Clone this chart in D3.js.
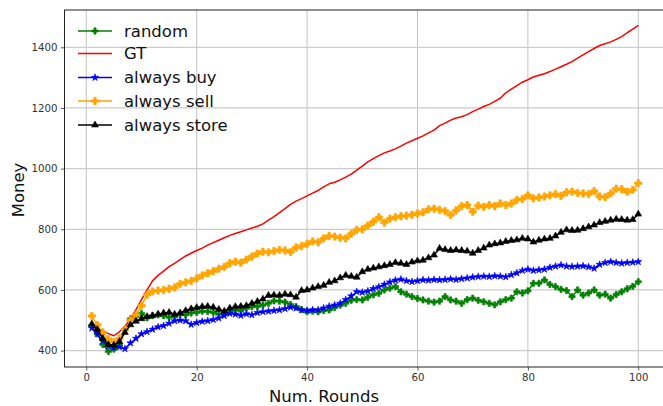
<!DOCTYPE html>
<html>
<head>
<meta charset="utf-8">
<script src="https://cdn.jsdelivr.net/npm/d3@7"></script>
<style>
  html, body { margin: 0; padding: 0; background: #fff; }
  svg { display: block; font-family: "DejaVu Sans", sans-serif; }
</style>
</head>
<body>
<svg id="chart" width="663" height="406"></svg>
<script>
// Money accumulated per round for each trading strategy
const rounds = d3.range(1, 101);

const randomVals = [482,455,420,397,405,420,470,505,512,522,508,515,518,515,510,512,520,518,524,526,
  530,529,526,520,523,530,534,532,540,545,546,550,556,564,563,560,552,545,535,529,
  530,528,532,534,542,550,556,566,568,567,576,584,589,600,606,611,594,586,578,572,
  567,563,560,563,578,567,563,556,568,573,566,561,556,551,561,568,573,594,590,597,
  622,622,633,618,611,602,598,578,600,583,590,600,583,586,573,585,594,604,612,627];

const gtVals = [480,472,465,456,449,462,480,505,535,568,600,630,648,662,677,688,700,712,721,730,
  738,748,756,764,772,780,786,792,798,804,810,818,830,842,855,868,882,893,901,910,
  919,928,940,950,955,963,972,982,995,1008,1022,1033,1043,1052,1058,1065,1074,1084,1092,1100,
  1108,1118,1127,1142,1150,1160,1167,1171,1178,1188,1196,1205,1212,1222,1232,1250,1262,1274,1285,1293,
  1302,1308,1313,1320,1328,1336,1344,1353,1364,1375,1386,1396,1406,1412,1418,1426,1435,1448,1460,1472];

const buyVals = [474,455,432,415,410,412,406,425,440,455,462,470,478,482,490,498,500,498,486,492,
  496,498,502,507,515,522,520,516,521,518,525,528,530,532,534,538,543,540,534,532,
  534,534,540,546,550,556,568,580,594,592,596,604,610,618,626,632,635,630,627,630,
  633,632,634,633,634,636,634,637,639,642,644,645,644,646,645,643,650,656,664,668,
  664,666,668,674,678,682,678,677,678,679,676,671,684,690,693,690,688,690,691,693];

const sellVals = [514,485,460,438,428,440,470,500,518,548,584,595,598,600,604,608,620,625,630,638,
  648,655,662,670,676,688,693,690,700,710,720,726,724,728,732,730,725,740,745,752,
  760,757,770,778,776,772,770,785,798,800,812,825,840,822,835,840,843,845,848,852,
  856,866,868,864,860,847,862,876,880,858,878,874,880,876,885,880,885,897,900,912,
  902,905,908,912,916,910,922,924,920,918,916,926,908,906,918,934,932,924,930,952];

const storeVals = [488,470,440,420,418,430,460,485,497,505,512,515,520,524,526,520,524,532,538,542,
  545,546,543,536,530,540,545,546,548,556,562,570,582,583,582,586,584,576,598,600,
  606,611,615,625,630,640,648,645,642,660,668,672,676,680,684,690,688,684,692,696,
  698,706,715,737,733,730,732,730,728,721,730,738,748,752,755,760,763,765,770,768,
  758,764,768,770,778,790,798,796,797,802,808,814,822,826,830,833,832,830,832,850];

const xTicks = [0, 20, 40, 60, 80, 100];
const yTicks = [400, 600, 800, 1000, 1200, 1400];

const seriesList = [
  { name: "random",       values: randomVals, color: "#008000", marker: "plus",   size: 22 },
  { name: "GT",           values: gtVals,     color: "#ff0000", marker: null },
  { name: "always buy",   values: buyVals,    color: "#0000ff", marker: "star",   size: 16 },
  { name: "always sell",  values: sellVals,   color: "#ffa500", marker: "plusB",  size: 30 },
  { name: "always store", values: storeVals,  color: "#000000", marker: "tri",    size: 20 }
];

const svg = d3.select("#chart");
const plotL = 64.5, plotR = 665.6, plotT = 10, plotB = 367;

const x = d3.scaleLinear().domain([-3.95, 104.95]).range([plotL, plotR]);
const y = d3.scaleLinear().domain([346, 1523]).range([plotB, plotT]);

// grid
const grid = svg.append("g");
grid.selectAll(".gx").data(xTicks).join("line")
  .attr("x1", d => x(d)).attr("x2", d => x(d))
  .attr("y1", plotT).attr("y2", plotB)
  .attr("stroke", "#c4c4c4").attr("stroke-width", 1);
grid.selectAll(".gy").data(yTicks).join("line")
  .attr("x1", plotL).attr("x2", plotR)
  .attr("y1", d => y(d)).attr("y2", d => y(d))
  .attr("stroke", "#cccccc").attr("stroke-width", 1.2);

function symbolFor(s) {
  if (s.marker === "plus" || s.marker === "plusB") return d3.symbol(d3.symbolCross, s.size);
  if (s.marker === "star") return d3.symbol(d3.symbolStar, s.size);
  if (s.marker === "tri") return d3.symbol(d3.symbolTriangle, s.size);
  return null;
}

const line = d3.line().x((d, i) => x(rounds[i])).y(d => y(d));

seriesList.forEach(s => {
  const g = svg.append("g");
  g.append("path")
    .datum(s.values)
    .attr("d", line)
    .attr("fill", "none")
    .attr("stroke", s.color)
    .attr("stroke-width", 1.5)
    .attr("stroke-linejoin", "round");
  const sym = symbolFor(s);
  if (sym) {
    g.selectAll("path.m").data(s.values).join("path")
      .attr("class", "m")
      .attr("d", sym)
      .attr("transform", (d, i) => `translate(${x(rounds[i])},${y(d)})`)
      .attr("fill", s.color)
      .attr("stroke", s.color)
      .attr("stroke-width", 0.6);
  }
});

// axes
const yAxis = svg.append("g")
  .attr("transform", `translate(${plotL},0)`)
  .call(d3.axisLeft(y).tickValues(yTicks).tickFormat(d3.format("d")).tickSize(3.5).tickPadding(3.5));
const xAxis = svg.append("g")
  .attr("transform", `translate(0,${plotB})`)
  .call(d3.axisBottom(x).tickValues(xTicks).tickFormat(d3.format("d")).tickSize(3.5).tickPadding(3.5));
[xAxis, yAxis].forEach(a => {
  a.select(".domain").remove();
  a.selectAll("text").attr("font-size", 10.2).attr("fill", "#333")
    .attr("font-family", "DejaVu Sans, sans-serif");
  a.selectAll("line").attr("stroke", "#333").attr("stroke-width", 0.8);
});

// spines
svg.append("rect")
  .attr("x", plotL).attr("y", plotT)
  .attr("width", plotR - plotL).attr("height", plotB - plotT)
  .attr("fill", "none").attr("stroke", "#222").attr("stroke-width", 1);

// axis titles
svg.append("text")
  .attr("x", 324).attr("y", 402)
  .attr("text-anchor", "middle")
  .attr("font-size", 16.5).attr("fill", "#111")
  .text("Num. Rounds");
svg.append("text")
  .attr("transform", "translate(24,190) rotate(-90)")
  .attr("text-anchor", "middle")
  .attr("font-size", 16.5).attr("fill", "#111")
  .text("Money");

// legend
const legend = svg.append("g");
const rowY = [31, 53.5, 77.5, 101, 125];
seriesList.forEach((s, i) => {
  const row = legend.append("g").attr("transform", `translate(0,${rowY[i]})`);
  row.append("line").attr("x1", 78).attr("x2", 112).attr("y1", 0).attr("y2", 0)
    .attr("stroke", s.color).attr("stroke-width", 1.5);
  const sym = symbolFor(s);
  if (sym) {
    row.append("path").attr("d", sym).attr("transform", "translate(95,0)")
      .attr("fill", s.color).attr("stroke", s.color).attr("stroke-width", 0.6);
  }
  row.append("text").attr("x", 124).attr("y", 5.8)
    .attr("font-size", 16.5).attr("fill", "#111")
    .text(s.name);
});
</script>
</body>
</html>
